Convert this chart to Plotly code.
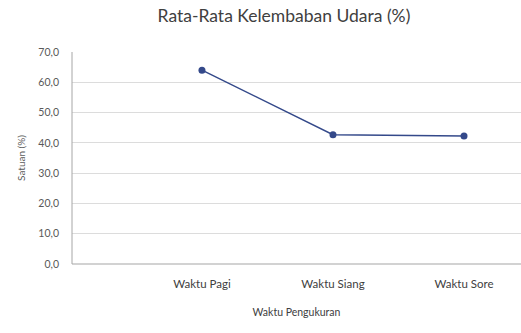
import plotly.graph_objects as go

categories = ["Waktu Pagi", "Waktu Siang", "Waktu Sore"]
values = [64.0, 42.7, 42.3]
y_ticks = [0, 10, 20, 30, 40, 50, 60, 70]

fig = go.Figure()
fig.add_trace(go.Scatter(
    x=list(range(len(categories))), y=values, mode="lines+markers",
    line=dict(color="#34498a", width=1.5),
    marker=dict(color="#34498a", size=7),
    showlegend=False, hoverinfo="skip",
))

font_family = "Lato, Open Sans, sans-serif"
fig.update_layout(
    width=521, height=333,
    margin=dict(l=72, r=0, t=52, b=69),
    paper_bgcolor="white", plot_bgcolor="white",
    separators=",.",
    font=dict(family=font_family, color="#595959", size=10),
    title=dict(text="Rata-Rata Kelembaban Udara (%)", x=0.545, xanchor="center",
               y=0.952, yanchor="middle",
               font=dict(size=17.5, color="#404040", family=font_family)),
)
fig.update_xaxes(
    range=[-0.992, 2.435],
    tickmode="array", tickvals=list(range(len(categories))), ticktext=categories,
    showgrid=False, zeroline=False,
    showline=False, ticks="",
    tickfont=dict(size=11.5, color="#404040"),
    ticklabelstandoff=11,
    title=dict(text="Waktu Pengukuran", font=dict(size=10.5, color="#404040"), standoff=20),
)
fig.update_yaxes(
    range=[0, 70],
    tickmode="array", tickvals=y_ticks, tickformat=".1f",
    showgrid=True, gridcolor="#dcdcdc", gridwidth=1,
    zeroline=False, showline=False, ticks="",
    tickfont=dict(size=10.5, color="#595959"),
    ticklabelstandoff=12,
    title=dict(text="Satuan (%)", font=dict(size=10, color="#595959"), standoff=10),
)
# axis lines (left and bottom)
fig.add_shape(type="line", xref="paper", yref="paper", x0=0, x1=0, y0=0, y1=1,
              line=dict(color="#a6a6a6", width=1))
fig.add_shape(type="line", xref="paper", yref="paper", x0=0, x1=1, y0=0, y1=0,
              line=dict(color="#a6a6a6", width=1.2))

fig.write_html("out.html")
